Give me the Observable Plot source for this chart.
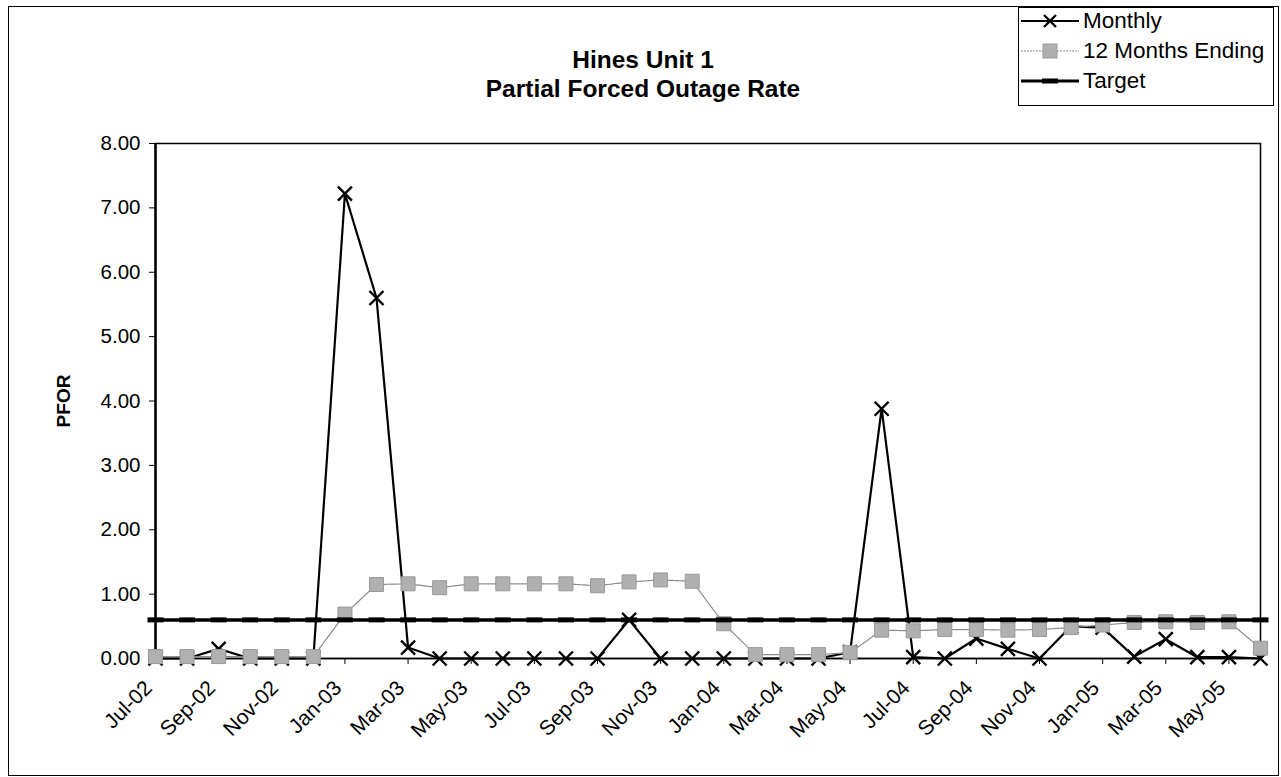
<!DOCTYPE html>
<html>
<head>
<meta charset="utf-8">
<script src="https://cdn.jsdelivr.net/npm/d3@7"></script>
<script src="https://cdn.jsdelivr.net/npm/@observablehq/plot@0.6"></script>
<style>
  html, body { margin: 0; padding: 0; background: #fff; }
  body { font-family: "Liberation Sans", Arial, sans-serif; }
  #wrap { position: relative; width: 1281px; height: 777px; overflow: hidden; }
  #frame { position: absolute; left: 8px; top: 6px; width: 1271px; height: 770px; border: 1.5px solid #000; box-sizing: border-box; }
  #title { position: absolute; left: 393px; width: 500px; top: 45px; text-align: center; font-weight: bold; font-size: 24.5px; line-height: 29px; color: #000; }
  #ylabel { position: absolute; left: 64px; top: 401px; transform: translate(-50%, -50%) rotate(-90deg); font-weight: bold; font-size: 19px; color: #000; white-space: nowrap; }
  #legend { position: absolute; left: 1018px; top: 7px; width: 256px; height: 99px; border: 1.5px solid #000; box-sizing: border-box; background: #fff; font-size: 22.5px; }
  .row { position: absolute; left: 2px; height: 26px; display: flex; align-items: center; white-space: nowrap; }
  .row svg { margin-right: 2px; }
  #chart { position: absolute; left: 0; top: 0; }
</style>
</head>
<body>
<div id="wrap">
  <div id="frame"></div>
  <div id="chart"></div>
  <div id="title">Hines Unit 1<br>Partial Forced Outage Rate</div>
  <div id="ylabel">PFOR</div>
  <div id="legend"></div>
</div>
<script>
// ---- data ----
const months = ["Jul-02","Aug-02","Sep-02","Oct-02","Nov-02","Dec-02",
  "Jan-03","Feb-03","Mar-03","Apr-03","May-03","Jun-03","Jul-03","Aug-03","Sep-03","Oct-03","Nov-03","Dec-03",
  "Jan-04","Feb-04","Mar-04","Apr-04","May-04","Jun-04","Jul-04","Aug-04","Sep-04","Oct-04","Nov-04","Dec-04",
  "Jan-05","Feb-05","Mar-05","Apr-05","May-05","Jun-05"];
const monthly = [0.00,0.00,0.15,0.00,0.00,0.00,
  7.22,5.60,0.17,0.00,0.00,0.00,0.00,0.00,0.00,0.60,0.00,0.00,
  0.00,0.00,0.00,0.00,0.10,3.88,0.02,0.00,0.31,0.15,0.00,0.50,
  0.48,0.03,0.30,0.02,0.02,0.00];
const twelveMonths = [0.03,0.03,0.03,0.03,0.03,0.03,
  0.69,1.15,1.16,1.10,1.16,1.16,1.16,1.16,1.13,1.19,1.22,1.20,
  0.54,0.06,0.06,0.06,0.09,0.44,0.43,0.45,0.45,0.44,0.45,0.48,
  0.52,0.56,0.57,0.56,0.57,0.16];
const target = months.map(() => 0.60);
const tickMonths = months.filter((d, i) => i % 2 === 0);
const yTicks = [0,1,2,3,4,5,6,7,8];
const seriesNames = ["Monthly", "12 Months Ending", "Target"];

// ---- table ----
const rows = months.map((m, i) => ({month: m, monthly: monthly[i], twelve: twelveMonths[i], target: target[i]}));

// custom symbols
const xMark = {draw(ctx) { ctx.moveTo(-7,-7); ctx.lineTo(7,7); ctx.moveTo(7,-7); ctx.lineTo(-7,7); }};
const sqMark = {draw(ctx) { ctx.rect(-7,-7,14,14); }};
const barMark = {draw(ctx) { ctx.rect(-8,-2.5,16,5); }};

const hasAxisMarks = typeof Plot.axisX === "function";
const axisMarks = hasAxisMarks ? [
  Plot.axisX(tickMonths, {tickSize: 6, tickFormat: () => "", label: null}),
  Plot.axisX(tickMonths, {tickSize: 0, tickPadding: 26, tickRotate: -45, dx: -7, fontSize: 21, label: null}),
  Plot.axisY(yTicks, {tickSize: 6, tickPadding: 9, tickFormat: d3.format(".2f"), fontSize: 20.5, label: null})
] : [];

const chart = Plot.plot({
  width: 1281,
  height: 777,
  marginLeft: 155,
  marginRight: 21,
  marginTop: 143,
  marginBottom: 119,
  style: {background: "transparent", fontFamily: "Liberation Sans, Arial, sans-serif", fontSize: "20px", color: "#000"},
  x: Object.assign({type: "point", domain: months, padding: 0, inset: 0, round: false, label: null},
    hasAxisMarks ? {} : {ticks: tickMonths, tickRotate: -45, tickSize: 6, tickPadding: 18}),
  y: Object.assign({domain: [0, 8], label: null},
    hasAxisMarks ? {} : {ticks: yTicks, tickFormat: d3.format(".2f"), tickSize: 6, tickPadding: 9}),
  marks: [
    ...axisMarks,
    Plot.frame({stroke: "#000", strokeWidth: 1.5}),
    Plot.ruleX([months[0]], {stroke: "#000", strokeWidth: 2.5}),
    Plot.ruleY([0], {stroke: "#000", strokeWidth: 1.5}),
    Plot.line(rows, {x: "month", y: "monthly", stroke: "#000", strokeWidth: 2.2}),
    Plot.dot(rows, {x: "month", y: "monthly", symbol: xMark, stroke: "#000", strokeWidth: 2.4, fill: "none"}),
    Plot.line(rows, {x: "month", y: "twelve", stroke: "#888", strokeWidth: 1.2, strokeDasharray: "2,1"}),
    Plot.dot(rows, {x: "month", y: "twelve", symbol: sqMark, fill: "#b0b0b0", stroke: "#999", strokeWidth: 1}),
    Plot.line(rows, {x: "month", y: "target", stroke: "#000", strokeWidth: 3.5}),
    Plot.dot(rows, {x: "month", y: "target", symbol: barMark, fill: "#000", stroke: "none"})
  ]
});
document.getElementById("chart").appendChild(chart);

// ---- legend ----
const legend = document.getElementById("legend");
const samples = [
  `<line x1="0" y1="8" x2="58" y2="8" stroke="#000" stroke-width="2"/><path d="M23,2L35,14M35,2L23,14" stroke="#000" stroke-width="2.4"/>`,
  `<line x1="0" y1="8" x2="58" y2="8" stroke="#888" stroke-width="1.2" stroke-dasharray="2,1"/><rect x="22" y="1" width="14" height="14" fill="#b0b0b0" stroke="#999"/>`,
  `<line x1="0" y1="8" x2="58" y2="8" stroke="#000" stroke-width="3"/><rect x="21" y="5.5" width="16" height="5" fill="#000"/>`
];
seriesNames.forEach((name, i) => {
  const row = document.createElement("div");
  row.className = "row";
  row.style.top = (0 + i * 30) + "px";
  row.innerHTML = `<svg width="60" height="16">${samples[i]}</svg><span>${name}</span>`;
  legend.appendChild(row);
});
</script>
</body>
</html>
